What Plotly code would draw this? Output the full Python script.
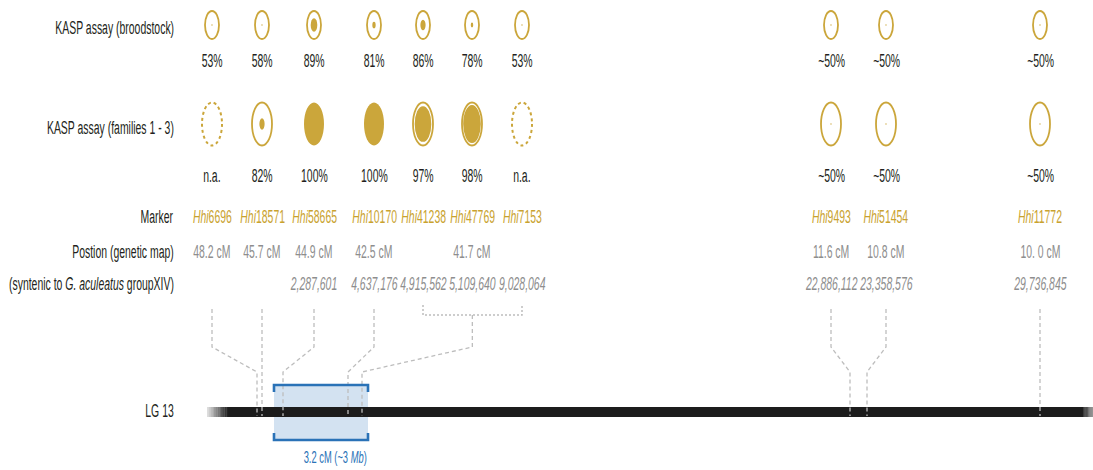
import plotly.graph_objects as go

# ---- data -----------------------------------------------------------------
markers = ["6696", "18571", "58665", "10170", "41238", "47769", "7153",
           "9493", "51454", "11772"]
genetic_cm = [48.2, 45.7, 44.9, 42.5, 41.7, 41.7, 41.7, 11.6, 10.8, 10.0]
syntenic_bp = [None, None, 2287601, 4637176, 4915562, 5109640, 9028064,
               22886112, 23358576, 29736845]
broodstock_pct = [53, 58, 89, 81, 86, 78, 53, 50, 50, 50]
families_pct = [None, 82, 100, 100, 97, 98, None, 50, 50, 50]
approx_pct = [False] * 7 + [True] * 3
row_labels = ["KASP assay (broodstock)", "KASP assay (families 1 - 3)", "Marker",
              "Postion (genetic map)", "(syntenic to <i>G. aculeatus</i> groupXIV)"]
linkage_group = "LG 13"
qtl_interval_cm = (44.9, 41.7)
qtl_interval_mb = "~3"

# ---- layout (schematic positions) -----------------------------------------
col_x = [212, 262, 314, 374, 423, 472, 522, 831, 886, 1040]
# where each genetic-map position lands on the schematic linkage group
anchor_x = {48.2: 257, 45.7: 263, 44.9: 283, 42.5: 348, 41.7: 362,
            11.6: 850, 10.8: 867, 10.0: 1040}
lg_span = (207, 1093)
box_span = (274, 368)

W, H = 1093, 470
FONT = "Liberation Sans, Arial, sans-serif"
FS = 19            # font size before horizontal condensing
CONDENSE = 0.55    # horizontal text scale (condensed type)
GOLD = "#CBA63B"
GOLD_TXT = "#C9A22E"
GREY_TXT = "#8E8E8E"
DARK = "#231F20"
BLUE = "#2A72B7"
BOX_FILL = "#D3E2F1"
DASH_GREY = "#BDBDBD"

Y_BROOD, Y_BROOD_TXT = 25, 60
Y_FAM, Y_FAM_TXT = 124, 175
Y_MARKER, Y_CM, Y_SYN = 216, 251, 283
LABEL_RIGHT = 176
Y_LG = 412
LG_THICK = 10

fig = go.Figure()
shapes = []
ann = []


def text(x, y, s, color=DARK, size=FS, anchor="center", vanchor="middle"):
    ann.append(dict(x=x, y=y, xref="x", yref="y", text=s, showarrow=False,
                    xanchor=anchor, yanchor=vanchor,
                    font=dict(family=FONT, size=size, color=color)))


def fill_fraction(p):
    # share of the ring filled by the inner disc
    return max((p - 50) / 50, 0) ** 3


def ellipse(cx, cy, w, h, **kw):
    shapes.append(dict(type="circle", xref="x", yref="y",
                       x0=cx - w / 2, x1=cx + w / 2, y0=cy - h / 2, y1=cy + h / 2, **kw))


def assay_symbol(cx, cy, w, h, p, lw):
    if p is None:
        ellipse(cx, cy, w, h, line=dict(color=GOLD, width=2, dash="3px,3px"))
        return
    f = fill_fraction(p)
    if f < 0.999:
        ellipse(cx, cy, w, h, line=dict(color=GOLD, width=lw), fillcolor="white")
    iw, ih = max(w * f, 1.3), max(h * f, 1.3)
    ellipse(cx, cy, iw, ih, line=dict(width=0), fillcolor=GOLD)


def pct_label(p, approx):
    if p is None:
        return "n.a."
    return ("~" if approx else "") + f"{p}%"


# ---- row labels -------------------------------------------------------------
for s, y in zip(row_labels, [27, 127, Y_MARKER, Y_CM, Y_SYN]):
    text(LABEL_RIGHT, y, s, anchor="right")
text(LABEL_RIGHT, Y_LG - 2, linkage_group, anchor="right")

# ---- assay rows -------------------------------------------------------------
for x, pb, pf, ap in zip(col_x, broodstock_pct, families_pct, approx_pct):
    assay_symbol(x, Y_BROOD, 14, 28, pb, 1.8)
    text(x, Y_BROOD_TXT, pct_label(pb, ap))
    assay_symbol(x, Y_FAM, 20, 43, pf, 1.8)
    text(x, Y_FAM_TXT, pct_label(pf, ap))

# ---- marker names, map positions, syntenic positions -------------------------
for x, m, bp in zip(col_x, markers, syntenic_bp):
    text(x, Y_MARKER, f"<i>Hhi</i>{m}", color=GOLD_TXT)
    if bp is not None:
        text(x, Y_SYN, f"<i>{bp:,}</i>", color=GREY_TXT)

groups = {}
for x, cm in zip(col_x, genetic_cm):
    groups.setdefault(cm, []).append(x)
for cm, xs in groups.items():
    text(sum(xs) / len(xs), Y_CM, f"{cm:.1f} cM".replace("10.0", "10. 0"), color=GREY_TXT)

# ---- QTL interval box (behind the linkage group) ------------------------------
shapes.append(dict(type="rect", xref="x", yref="y", layer="below",
                   x0=box_span[0], x1=box_span[1], y0=385, y1=440,
                   fillcolor=BOX_FILL, line=dict(width=0)))

# ---- linkage group bar with faded ends ----------------------------------------
fade_l, fade_r = 21, 10
shapes.append(dict(type="rect", xref="x", yref="y", layer="below",
                   x0=lg_span[0] + fade_l, x1=lg_span[1] - fade_r,
                   y0=Y_LG - LG_THICK / 2, y1=Y_LG + LG_THICK / 2,
                   fillcolor="#1C1C1C", line=dict(width=0)))
steps = 12
for i in range(steps):
    g = int(0xE6 - (0xE6 - 0x1C) * (i + 0.5) / steps)
    shapes.append(dict(type="rect", xref="x", yref="y", layer="below",
                       x0=lg_span[0] + fade_l * i / steps,
                       x1=lg_span[0] + fade_l * (i + 1) / steps + 0.3,
                       y0=Y_LG - LG_THICK / 2, y1=Y_LG + LG_THICK / 2,
                       fillcolor=f"rgb({g},{g},{g})", line=dict(width=0)))
    g2 = int(0x1C + (0x9A - 0x1C) * (i + 0.5) / steps)
    shapes.append(dict(type="rect", xref="x", yref="y", layer="below",
                       x0=lg_span[1] - fade_r + fade_r * i / steps - 0.3,
                       x1=lg_span[1] - fade_r + fade_r * (i + 1) / steps,
                       y0=Y_LG - LG_THICK / 2, y1=Y_LG + LG_THICK / 2,
                       fillcolor=f"rgb({g2},{g2},{g2})", line=dict(width=0)))

# ---- connectors from marker columns to the linkage group -----------------------
Y_TOP, Y_K1, Y_K2, Y_BOT = 309, 347, 372, Y_LG + 4
for cm, xs in groups.items():
    ax = anchor_x[cm]
    if len(xs) > 1:
        # bracket joining markers at the same map position
        fig.add_trace(go.Scatter(
            x=[xs[0], xs[0], xs[-1], xs[-1]], y=[305, 315, 315, 305], mode="lines",
            line=dict(color=DASH_GREY, width=1.5, dash="2px,2px"),
            hoverinfo="skip", showlegend=False))
        top, sx = 315, sum(xs) / len(xs)
    else:
        top, sx = Y_TOP, xs[0]
    if abs(sx - ax) < 2:
        px, py = [sx, sx], [top, Y_BOT]
    else:
        px, py = [sx, sx, ax, ax], [top, Y_K1, Y_K2, Y_BOT]
    fig.add_trace(go.Scatter(x=px, y=py, mode="lines",
                             line=dict(color=DASH_GREY, width=1.3, dash="4px,3px"),
                             hoverinfo="skip", showlegend=False))

# ---- QTL bracket and label ----------------------------------------------------
bx0, bx1 = box_span
for y0, y1 in [(392, 385), (433, 440)]:
    shapes.append(dict(type="path", xref="x", yref="y",
                       path=f"M{bx0},{y0} L{bx0},{y1} L{bx1},{y1} L{bx1},{y0}",
                       line=dict(color=BLUE, width=2.6)))
width_cm = qtl_interval_cm[0] - qtl_interval_cm[1]
text(bx1 + 1, 469, f"{width_cm:.1f} cM ({qtl_interval_mb} <i>Mb</i>)",
     color=BLUE, size=17, anchor="right", vanchor="bottom")

fig.update_layout(
    width=W, height=H, margin=dict(l=0, r=0, t=0, b=0),
    paper_bgcolor="white", plot_bgcolor="white",
    xaxis=dict(range=[0, W], visible=False, fixedrange=True),
    yaxis=dict(range=[H, 0], visible=False, fixedrange=True),
    shapes=shapes, annotations=ann, showlegend=False,
)

# condensed lettering: squeeze every annotation horizontally about its anchor side
condense_js = """
var gd = document.getElementById('{plot_id}');
function condense() {
  var anns = gd.layout.annotations || [];
  gd.querySelectorAll('g.annotation').forEach(function (g) {
    var i = +g.getAttribute('data-index');
    var t = g.querySelector('text.annotation-text');
    if (!t) return;
    var a = anns[i] || {};
    var side = a.xanchor === 'right' ? 'right' : (a.xanchor === 'left' ? 'left' : 'center');
    t.style.transformBox = 'fill-box';
    t.style.transformOrigin = side + ' center';
    t.style.transform = 'scale(%s, 1)';
  });
}
condense();
gd.on('plotly_afterplot', condense);
""" % CONDENSE

fig.write_html("out.html", post_script=condense_js)
